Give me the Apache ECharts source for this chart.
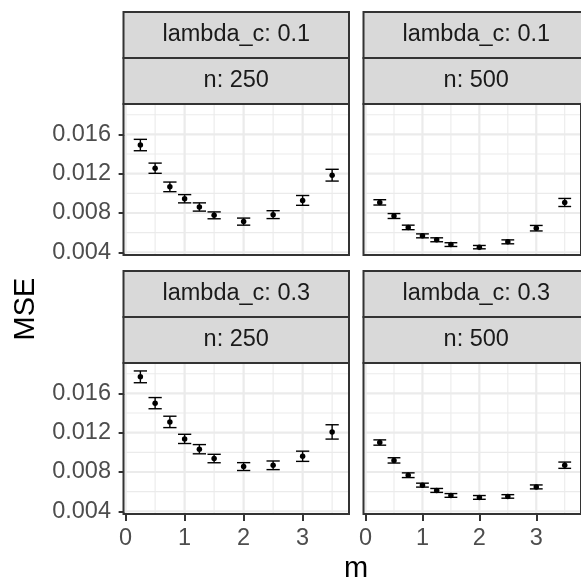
<!DOCTYPE html>
<html><head><meta charset="utf-8">
<script src="https://cdn.jsdelivr.net/npm/echarts@6/dist/echarts.min.js"></script>
<style>html,body{margin:0;padding:0;background:#fff}#c{width:581px;height:582px}</style>
</head><body><div id="c"></div>
<script>
// ---- data ----
const mValues = [0.25, 0.5, 0.75, 1, 1.25, 1.5, 2, 2.5, 3, 3.5];
const rowLabels = ['lambda_c: 0.1', 'lambda_c: 0.3'];
const colLabels = ['n: 250', 'n: 500'];

const mse_l01_n250 = [0.01492, 0.01256, 0.01066, 0.00945, 0.00861, 0.00776, 0.00712, 0.00783, 0.00928, 0.01185];
const err_l01_n250 = [0.00058, 0.00052, 0.00049, 0.00042, 0.00042, 0.00035, 0.00036, 0.00040, 0.00050, 0.00060];
const mse_l01_n500 = [0.00908, 0.00769, 0.00653, 0.00567, 0.00527, 0.00478, 0.00452, 0.00506, 0.00645, 0.00907];
const err_l01_n500 = [0.00027, 0.00025, 0.00023, 0.00020, 0.00020, 0.00019, 0.00017, 0.00020, 0.00028, 0.00041];
const mse_l03_n250 = [0.01769, 0.01501, 0.01310, 0.01137, 0.01032, 0.00937, 0.00855, 0.00868, 0.00960, 0.01208];
const err_l03_n250 = [0.00060, 0.00057, 0.00058, 0.00047, 0.00047, 0.00043, 0.00040, 0.00044, 0.00052, 0.00073];
const mse_l03_n500 = [0.01100, 0.00918, 0.00767, 0.00666, 0.00612, 0.00561, 0.00541, 0.00551, 0.00648, 0.00869];
const err_l03_n500 = [0.00027, 0.00027, 0.00024, 0.00020, 0.00020, 0.00019, 0.00019, 0.00018, 0.00020, 0.00032];

const yTicks = [0.004, 0.008, 0.012, 0.016];
const yMinor = [0.006, 0.010, 0.014, 0.018];
const xTicks = [0, 1, 2, 3];
const xMinor = [0.5, 1.5, 2.5, 3.5];

// ---- layout ----
const colLeft = [123.5, 363.5], panelW = 225.5;
const rowTop = [104, 363], panelH = 151, stripH = 46;
const xMin = -0.036, xMax = 3.786, yMin = 0.00372, yMax = 0.0191;
const capHalf = 0.1125;
const font = '"Liberation Sans", Arial, sans-serif';

const panels = [
  {row: 0, col: 0, mse: mse_l01_n250, err: err_l01_n250},
  {row: 0, col: 1, mse: mse_l01_n500, err: err_l01_n500},
  {row: 1, col: 0, mse: mse_l03_n250, err: err_l03_n250},
  {row: 1, col: 1, mse: mse_l03_n500, err: err_l03_n500}
];

// grid-line rows: kind 0 = horizontal minor, 1 = vertical minor, 2 = horizontal major, 3 = vertical major
const gridRows = [
  ...yMinor.map(v => [0, v]), ...xMinor.map(v => [1, v]),
  ...yTicks.map(v => [2, v]), ...xTicks.map(v => [3, v])
];

const grids = [], xAxes = [], yAxes = [], series = [], graphics = [];

panels.forEach((p, i) => {
  const bottom = p.row === 1, left = p.col === 0;
  grids.push({left: colLeft[p.col], top: rowTop[p.row], width: panelW, height: panelH,
    show: true, borderColor: '#333333', borderWidth: 2, backgroundColor: 'transparent', z: 10});
  xAxes.push({type: 'value', gridIndex: i, min: xMin, max: xMax,
    axisLine: {show: false},
    axisTick: {show: bottom, customValues: xTicks, length: 7, lineStyle: {color: '#333333', width: 2}},
    axisLabel: {show: bottom, customValues: xTicks, margin: 12.5, color: '#4D4D4D', fontSize: 23.5, fontFamily: font,
      formatter: v => String(v)},
    splitLine: {show: false}});
  yAxes.push({type: 'value', gridIndex: i, min: yMin, max: yMax,
    axisLine: {show: false},
    axisTick: {show: left, customValues: yTicks, length: 7, lineStyle: {color: '#333333', width: 2}},
    axisLabel: {show: left, customValues: yTicks, margin: 12.5, color: '#4D4D4D', fontSize: 23.5, fontFamily: font,
      formatter: v => v.toFixed(3)},
    splitLine: {show: false}});

  series.push({type: 'custom', xAxisIndex: i, yAxisIndex: i, z: 1, silent: true, animation: false,
    data: gridRows,
    renderItem: (params, api) => {
      const kind = api.value(0), v = api.value(1), cs = params.coordSys;
      const w = kind >= 2 ? 2.2 : 1.1;
      const st = {stroke: '#EBEBEB', lineWidth: w};
      if (kind % 2 === 0) {
        const y = api.coord([xMin, v])[1];
        return {type: 'line', shape: {x1: cs.x, y1: y, x2: cs.x + cs.width, y2: y}, style: st};
      }
      const x = api.coord([v, yMin])[0];
      return {type: 'line', shape: {x1: x, y1: cs.y, x2: x, y2: cs.y + cs.height}, style: st};
    }});

  const rows = mValues.map((m, k) => [m, p.mse[k], p.err[k]]);
  series.push({type: 'custom', xAxisIndex: i, yAxisIndex: i, z: 3, silent: true, animation: false,
    data: rows,
    renderItem: (params, api) => {
      const x = api.value(0), y = api.value(1), e = api.value(2);
      const top = api.coord([x, y + e]), bot = api.coord([x, y - e]);
      const tl = api.coord([x - capHalf, y + e]), tr = api.coord([x + capHalf, y + e]);
      const bl = api.coord([x - capHalf, y - e]), br = api.coord([x + capHalf, y - e]);
      const st = {stroke: '#000', lineWidth: 1.4};
      return {type: 'group', children: [
        {type: 'line', shape: {x1: top[0], y1: top[1], x2: bot[0], y2: bot[1]}, style: st},
        {type: 'line', shape: {x1: tl[0], y1: tl[1], x2: tr[0], y2: tr[1]}, style: st},
        {type: 'line', shape: {x1: bl[0], y1: bl[1], x2: br[0], y2: br[1]}, style: st}
      ]};
    }});
  series.push({type: 'scatter', xAxisIndex: i, yAxisIndex: i, z: 4, silent: true, animation: false,
    symbol: 'circle', symbolSize: 5.5, itemStyle: {color: '#000', opacity: 1},
    data: mValues.map((m, k) => [m, p.mse[k]])});

  // strips
  const sx = colLeft[p.col], sTop = rowTop[p.row] - 2 * stripH;
  [rowLabels[p.row], colLabels[p.col]].forEach((lab, j) => {
    const y0 = sTop + j * stripH;
    graphics.push({type: 'rect', z: 20, shape: {x: sx, y: y0, width: panelW, height: stripH},
      style: {fill: '#D9D9D9', stroke: '#333333', lineWidth: 2}});
    graphics.push({type: 'text', z: 21, x: sx + panelW / 2, y: y0 + stripH / 2,
      style: {text: lab, font: '23.5px ' + font, fill: '#1A1A1A', align: 'center', verticalAlign: 'middle'}});
  });
});

graphics.push({type: 'text', z: 21, x: 356, y: 569,
  style: {text: 'm', font: '29px ' + font, fill: '#000', align: 'center', verticalAlign: 'middle'}});
graphics.push({type: 'text', z: 21, x: 26, y: 309, rotation: Math.PI / 2,
  style: {text: 'MSE', font: '29px ' + font, fill: '#000', align: 'center', verticalAlign: 'middle'}});

const chart = echarts.init(document.getElementById('c'), null, {renderer: 'canvas'});
chart.setOption({animation: false, backgroundColor: '#ffffff',
  grid: grids, xAxis: xAxes, yAxis: yAxes, series: series, graphic: graphics});
</script></body></html>
